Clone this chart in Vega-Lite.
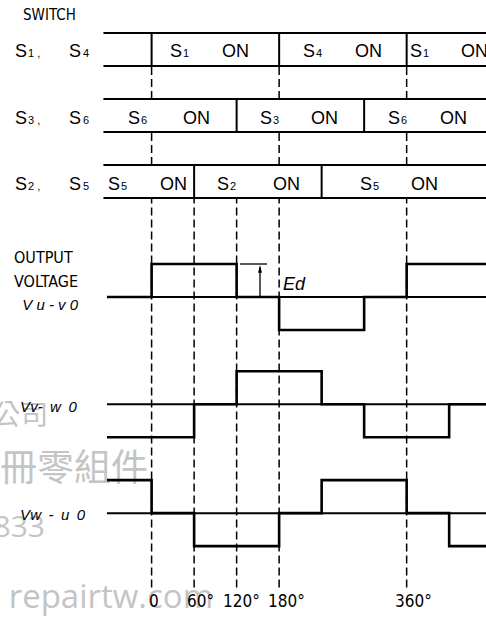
{
  "$schema": "https://vega.github.io/schema/vega-lite/v6.json",
  "width": 486,
  "height": 617,
  "padding": 0,
  "autosize": {"type": "none"},
  "background": "white",
  "config": {"view": {"stroke": null}},
  "datasets": {
    "wm_cjk1": [{"x": -146, "y": -3.64, "t": "公司"}],
    "wm_cjk2": [{"x": -5, "y": -5.24, "t": "冊零組件"}],
    "wm_num": [{"x": -150.5, "y": -7.0, "t": "833"}],
    "wm_url": [{"x": 87, "y": -9.12, "t": "repairtw.com"}],
    "boxlines": [
      {"x": -68, "x2": 472, "y": 8, "y2": 8},
      {"x": -68, "x2": 472, "y": 7, "y2": 7},
      {"x": -68, "x2": 472, "y": 6, "y2": 6},
      {"x": -68, "x2": 472, "y": 5, "y2": 5},
      {"x": -68, "x2": 472, "y": 4, "y2": 4},
      {"x": -68, "x2": 472, "y": 3, "y2": 3},
      {"x": 0, "x2": 0, "y": 7, "y2": 8},
      {"x": 180, "x2": 180, "y": 7, "y2": 8},
      {"x": 360, "x2": 360, "y": 7, "y2": 8},
      {"x": 120, "x2": 120, "y": 5, "y2": 6},
      {"x": 300, "x2": 300, "y": 5, "y2": 6},
      {"x": 60, "x2": 60, "y": 3, "y2": 4},
      {"x": 240, "x2": 240, "y": 3, "y2": 4}
    ],
    "baselines": [
      {"x": -63, "x2": 472, "y": 0, "y2": 0},
      {"x": -63, "x2": 472, "y": -3.25, "y2": -3.25},
      {"x": -63, "x2": 472, "y": -6.55, "y2": -6.55}
    ],
    "dashes": [
      {"x": 0, "x2": 0, "y": 6, "y2": 7},
      {"x": 180, "x2": 180, "y": 6, "y2": 7},
      {"x": 360, "x2": 360, "y": 6, "y2": 7},
      {"x": 0, "x2": 0, "y": 4, "y2": 5},
      {"x": 180, "x2": 180, "y": 4, "y2": 5},
      {"x": 360, "x2": 360, "y": 4, "y2": 5},
      {"x": 0, "x2": 0, "y": -8.8, "y2": 3},
      {"x": 60, "x2": 60, "y": -8.8, "y2": 3},
      {"x": 120, "x2": 120, "y": -8.8, "y2": 3},
      {"x": 180, "x2": 180, "y": -8.8, "y2": 3},
      {"x": 360, "x2": 360, "y": -8.8, "y2": 3}
    ],
    "waves": [
      {"s": "Vu-v0", "x": -63, "y": 0},
      {"s": "Vu-v0", "x": 0, "y": 1},
      {"s": "Vu-v0", "x": 120, "y": 0},
      {"s": "Vu-v0", "x": 180, "y": -1},
      {"s": "Vu-v0", "x": 300, "y": 0},
      {"s": "Vu-v0", "x": 360, "y": 1},
      {"s": "Vu-v0", "x": 472, "y": 1},
      {"s": "Vv-w0", "x": -63, "y": -4.25},
      {"s": "Vv-w0", "x": 60, "y": -3.25},
      {"s": "Vv-w0", "x": 120, "y": -2.25},
      {"s": "Vv-w0", "x": 240, "y": -3.25},
      {"s": "Vv-w0", "x": 300, "y": -4.25},
      {"s": "Vv-w0", "x": 420, "y": -3.25},
      {"s": "Vv-w0", "x": 472, "y": -3.25},
      {"s": "Vw-u0", "x": -63, "y": -5.55},
      {"s": "Vw-u0", "x": 0, "y": -6.55},
      {"s": "Vw-u0", "x": 60, "y": -7.55},
      {"s": "Vw-u0", "x": 180, "y": -6.55},
      {"s": "Vw-u0", "x": 240, "y": -5.55},
      {"s": "Vw-u0", "x": 360, "y": -6.55},
      {"s": "Vw-u0", "x": 420, "y": -7.55},
      {"s": "Vw-u0", "x": 472, "y": -7.55}
    ],
    "edlines": [
      {"x": 124.8, "x2": 162.9, "y": 1, "y2": 1},
      {"x": 153, "x2": 153, "y": 0, "y2": 0.9}
    ],
    "edhead": [{"x": 153, "y": 0.85}],
    "mainlabels": [
      {"x": -192.8, "y": 7.26, "t": "S"}, {"x": -116.6, "y": 7.26, "t": "S"},
      {"x": -192.8, "y": 5.24, "t": "S"}, {"x": -116.6, "y": 5.24, "t": "S"},
      {"x": -192.8, "y": 3.24, "t": "S"}, {"x": -116.6, "y": 3.24, "t": "S"},
      {"x": 25.97, "y": 7.26, "t": "S"}, {"x": 99.4, "y": 7.26, "t": "ON"},
      {"x": 213.7, "y": 7.26, "t": "S"}, {"x": 287.1, "y": 7.26, "t": "ON"},
      {"x": 364.7, "y": 7.26, "t": "S"}, {"x": 436.8, "y": 7.26, "t": "ON"},
      {"x": -33.3, "y": 5.24, "t": "S"}, {"x": 44.3, "y": 5.24, "t": "ON"},
      {"x": 153.0, "y": 5.24, "t": "S"}, {"x": 225.0, "y": 5.24, "t": "ON"},
      {"x": 333.7, "y": 5.24, "t": "S"}, {"x": 407.1, "y": 5.24, "t": "ON"},
      {"x": -61.5, "y": 3.24, "t": "S"}, {"x": 11.9, "y": 3.24, "t": "ON"},
      {"x": 92.3, "y": 3.24, "t": "S"}, {"x": 171.4, "y": 3.24, "t": "ON"},
      {"x": 294.1, "y": 3.24, "t": "S"}, {"x": 366.2, "y": 3.24, "t": "ON"}
    ],
    "sublabels": [
      {"x": -174.5, "y": 7.26, "t": "1 ,"}, {"x": -96.8, "y": 7.26, "t": "4"},
      {"x": -174.5, "y": 5.24, "t": "3 ,"}, {"x": -96.8, "y": 5.24, "t": "6"},
      {"x": -174.5, "y": 3.24, "t": "2 ,"}, {"x": -96.8, "y": 3.24, "t": "5"},
      {"x": 44.32, "y": 7.26, "t": "1"}, {"x": 232.1, "y": 7.26, "t": "4"}, {"x": 383.1, "y": 7.26, "t": "1"},
      {"x": -15.0, "y": 5.24, "t": "6"}, {"x": 171.4, "y": 5.24, "t": "3"}, {"x": 352.0, "y": 5.24, "t": "6"},
      {"x": -43.2, "y": 3.24, "t": "5"}, {"x": 110.6, "y": 3.24, "t": "2"}, {"x": 312.5, "y": 3.24, "t": "5"}
    ],
    "switchtitle": [{"x": -181.5, "y": 8.545, "t": "SWITCH"}],
    "outtitle": [
      {"x": -194.2, "y": 1.18, "t": "OUTPUT"},
      {"x": -194.2, "y": 0.455, "t": "VOLTAGE"}
    ],
    "ticks": [
      {"x": -3.7, "y": -9.24, "t": "0"},
      {"x": 50.0, "y": -9.24, "t": "60°"},
      {"x": 100.7, "y": -9.24, "t": "120°"},
      {"x": 164.3, "y": -9.24, "t": "180°"},
      {"x": 343.5, "y": -9.24, "t": "360°"}
    ],
    "signames": [
      {"x": -182.6, "y": -0.24, "t": "V u - v 0"},
      {"x": -185.6, "y": -3.33, "t": "Vv-\u2002w\u20020"},
      {"x": -185.6, "y": -6.6, "t": "Vw\u2002-\u2002u\u20020"}
    ],
    "edlabel": [{"x": 185.6, "y": 0.36, "t": "Ed"}]
  },
  "encoding": {
    "x": {"field": "x", "type": "quantitative", "axis": null,
          "scale": {"domain": [-214, 472], "nice": false, "zero": false}},
    "y": {"field": "y", "type": "quantitative", "axis": null,
          "scale": {"domain": [-9.697, 9], "nice": false, "zero": false}}
  },
  "layer": [
    {"data": {"name": "wm_cjk1"}, "mark": {"type": "text", "font": "Noto Sans CJK TC", "fontSize": 28, "color": "#c4c4c4", "align": "right", "baseline": "middle"}, "encoding": {"text": {"field": "t"}}},
    {"data": {"name": "wm_cjk2"}, "mark": {"type": "text", "font": "Noto Sans CJK TC", "fontSize": 37, "color": "#c4c4c4", "align": "right", "baseline": "middle"}, "encoding": {"text": {"field": "t"}}},
    {"data": {"name": "wm_num"}, "mark": {"type": "text", "font": "Open Sans", "fontSize": 30, "color": "#c4c4c4", "align": "right", "baseline": "middle"}, "encoding": {"text": {"field": "t"}}},
    {"data": {"name": "wm_url"}, "mark": {"type": "text", "font": "Open Sans", "fontSize": 33, "color": "#c4c4c4", "align": "right", "baseline": "middle"}, "encoding": {"text": {"field": "t"}}},
    {"data": {"name": "dashes"}, "mark": {"type": "rule", "color": "black", "strokeWidth": 1.5, "strokeDash": [8, 4]}, "encoding": {"x2": {"field": "x2"}, "y2": {"field": "y2"}}},
    {"data": {"name": "boxlines"}, "mark": {"type": "rule", "color": "black", "strokeWidth": 2}, "encoding": {"x2": {"field": "x2"}, "y2": {"field": "y2"}}},
    {"data": {"name": "baselines"}, "mark": {"type": "rule", "color": "black", "strokeWidth": 2}, "encoding": {"x2": {"field": "x2"}, "y2": {"field": "y2"}}},
    {"data": {"name": "edlines"}, "mark": {"type": "rule", "color": "black", "strokeWidth": 1.3}, "encoding": {"x2": {"field": "x2"}, "y2": {"field": "y2"}}},
    {"data": {"name": "edhead"}, "mark": {"type": "point", "shape": "M0,-1L0.5,1L-0.5,1Z", "size": 60, "filled": true, "color": "black", "opacity": 1}},
    {"data": {"name": "waves"}, "mark": {"type": "line", "interpolate": "step-after", "color": "black", "strokeWidth": 2.6}, "encoding": {"detail": {"field": "s"}}},
    {"data": {"name": "mainlabels"}, "mark": {"type": "text", "font": "Liberation Sans", "fontSize": 18, "color": "black", "align": "left", "baseline": "alphabetic"}, "encoding": {"text": {"field": "t"}}},
    {"data": {"name": "sublabels"}, "mark": {"type": "text", "font": "Liberation Sans", "fontSize": 11, "color": "black", "align": "left", "baseline": "alphabetic"}, "encoding": {"text": {"field": "t"}}},
    {"data": {"name": "switchtitle"}, "mark": {"type": "text", "font": "Liberation Sans Narrow, DejaVu Sans Condensed, sans-serif", "fontSize": 15, "color": "black", "align": "left", "baseline": "middle"}, "encoding": {"text": {"field": "t"}}},
    {"data": {"name": "outtitle"}, "mark": {"type": "text", "font": "Liberation Sans Narrow, DejaVu Sans Condensed, sans-serif", "fontSize": 16, "color": "black", "align": "left", "baseline": "middle"}, "encoding": {"text": {"field": "t"}}},
    {"data": {"name": "ticks"}, "mark": {"type": "text", "font": "Liberation Sans Narrow, DejaVu Sans Condensed, sans-serif", "fontSize": 17, "color": "black", "align": "left", "baseline": "middle"}, "encoding": {"text": {"field": "t"}}},
    {"data": {"name": "signames"}, "mark": {"type": "text", "font": "Liberation Sans", "fontStyle": "italic", "fontSize": 15, "color": "black", "align": "left", "baseline": "middle"}, "encoding": {"text": {"field": "t"}}},
    {"data": {"name": "edlabel"}, "mark": {"type": "text", "font": "Liberation Sans", "fontStyle": "italic", "fontSize": 18, "color": "black", "align": "left", "baseline": "middle"}, "encoding": {"text": {"field": "t"}}}
  ]
}
